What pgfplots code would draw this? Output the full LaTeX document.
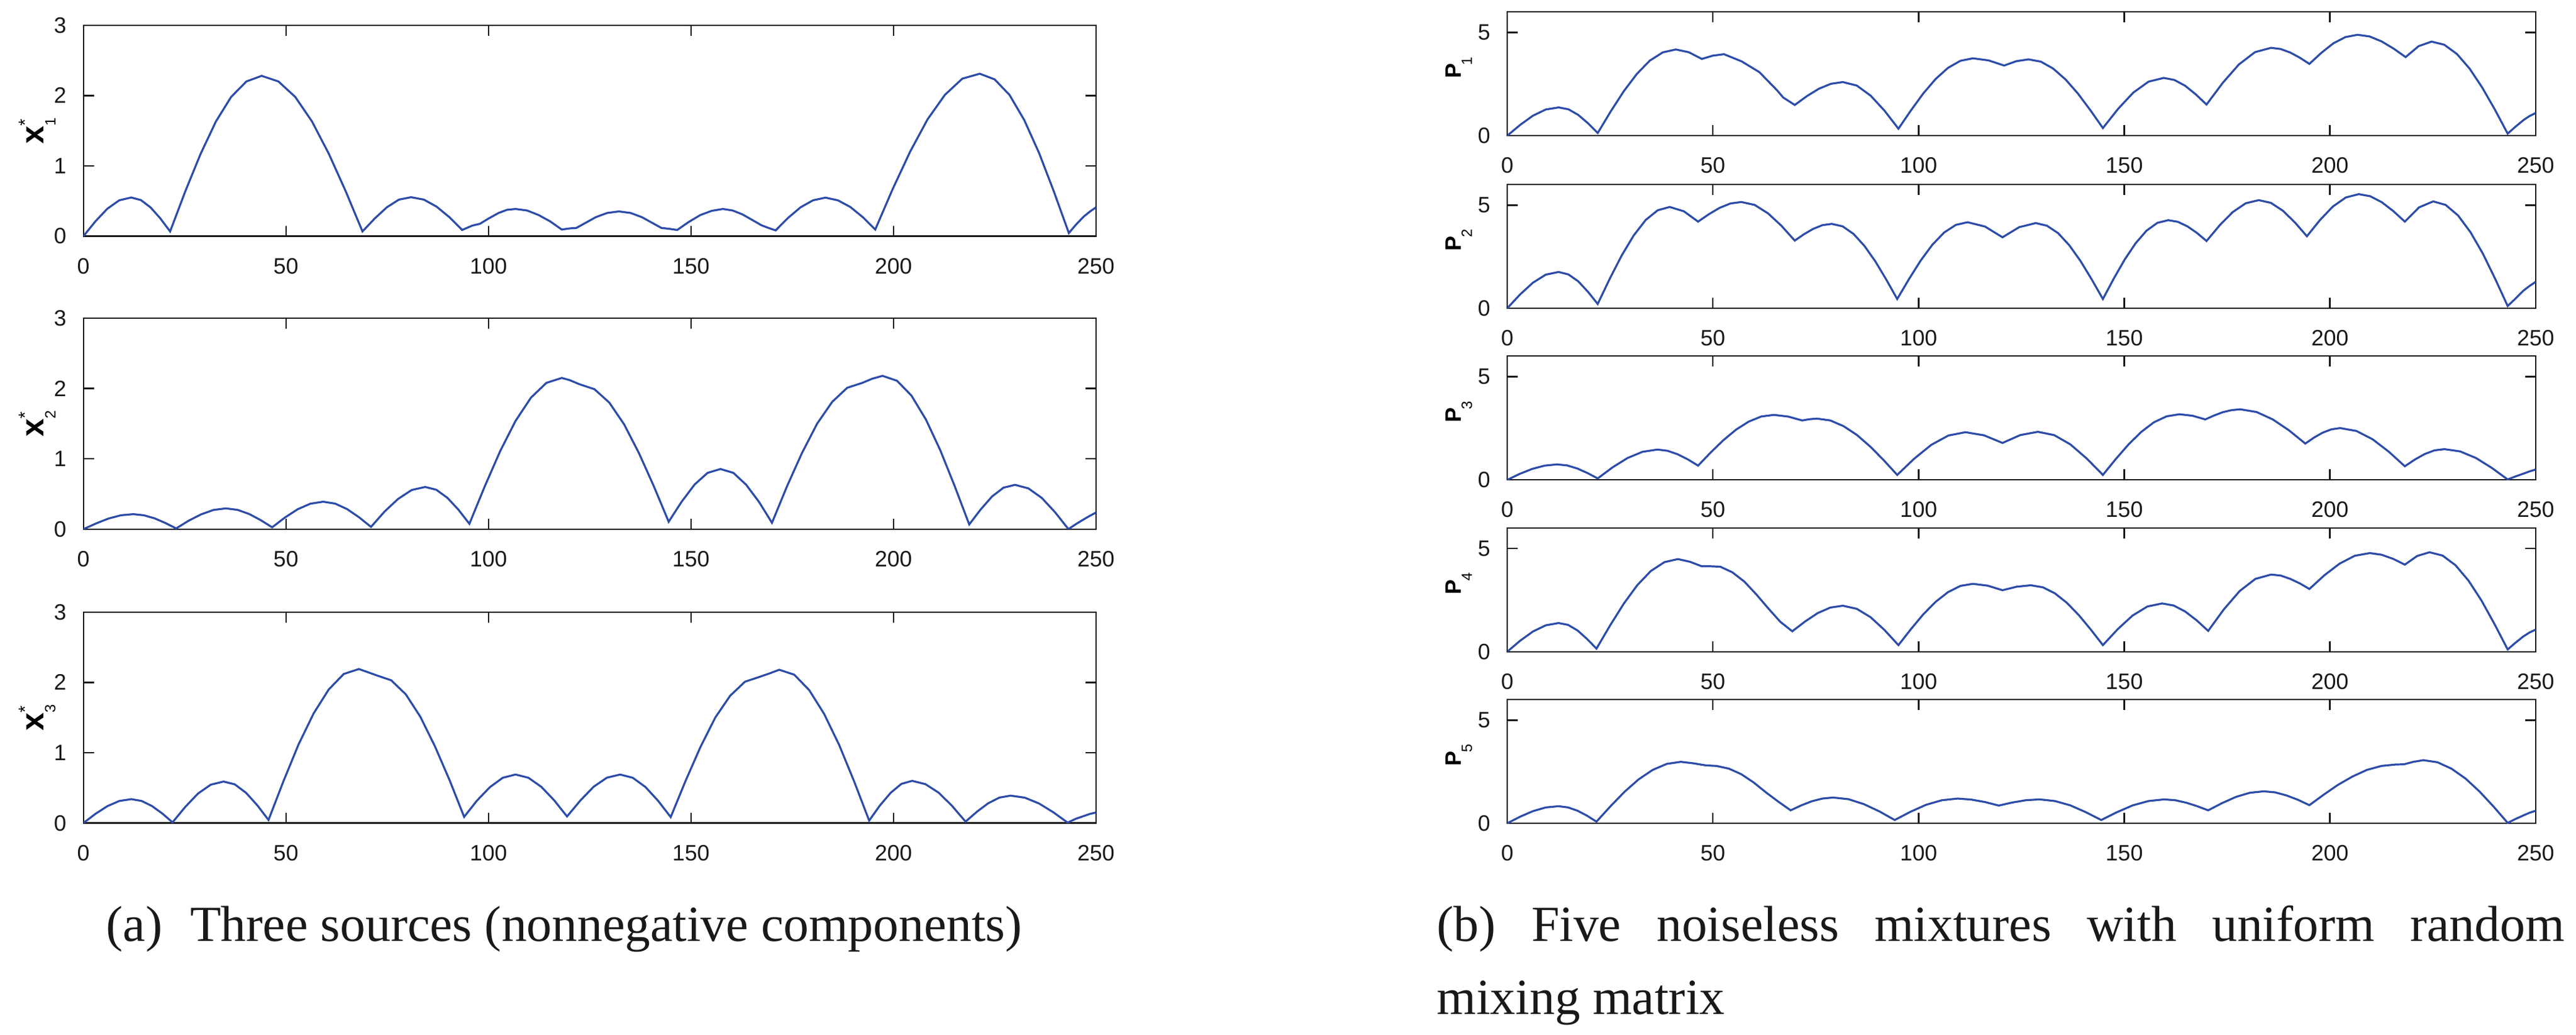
\documentclass[border=0pt]{standalone}
\usepackage{fontspec}
\setmainfont{Liberation Serif}
\setsansfont{Liberation Sans}
\usepackage{pgfplots}
\pgfplotsset{compat=1.18}
\definecolor{linecol}{RGB}{44,76,168}
\definecolor{axcol}{RGB}{25,25,25}
\pgfplotsset{
  base/.style={scale only axis, anchor=north west, xmin=0, xmax=250,
    xtick={0,50,100,150,200,250}, tick align=inside, tick pos=both,
    major tick length=2.1pt,
    axis line style={line width=0.3pt, axcol},
    every tick/.style={axcol, line width=0.3pt},
    ticklabel style={font=\fontsize{4.5}{5}\selectfont\sffamily, text=axcol},
    /pgf/number format/assume math mode=true,
    xticklabel style={yshift=-0.9pt},
    yticklabel style={xshift=0.1pt},
    cycle list={{linecol, line width=0.35pt, mark=none, line join=round, smooth, tension=0.35}},
  },
  srcax/.style={base, width=204.4pt, height=42.6pt, ymin=0, ymax=3, ytick={0,1,2,3},
    ylabel style={at={(axis description cs:-0.0457,0.5)}, anchor=center}},
  mixax/.style={base, width=207.6pt, height=25pt, ymin=0, ymax=6, ytick={0,5},
    ylabel style={at={(axis description cs:-0.047,0.55)}, anchor=center}},
}
\newcommand{\xlab}[1]{{\fontsize{6.5}{7}\selectfont\sffamily\bfseries x}\rlap{\raisebox{2.5pt}{\fontsize{3.6}{4}\selectfont\sffamily *}}\raisebox{-2.4pt}{\fontsize{3}{3}\selectfont\sffamily #1}}
\newcommand{\plab}[1]{{\fontsize{4.5}{5}\selectfont\sffamily\bfseries P}\kern-0.3pt\raisebox{-2.2pt}{\fontsize{3}{3}\selectfont\sffamily #1}}
\begin{document}
\begin{tikzpicture}
\useasboundingbox (0,0) rectangle (520pt,-209pt);
% ---------------- sources ----------------
\begin{axis}[srcax, at={(16.84pt,-5.09pt)}, ylabel={\xlab{1}}]
\addplot coordinates {(0,0) (2.95,0.21) (5.9,0.39) (8.85,0.51) (11.8,0.55) (14.2,0.513) (16.6,0.408) (19,0.252) (21.4,0.067)
(25.17,0.64) (28.93,1.17) (32.7,1.63) (36.47,1.98) (40.23,2.2) (44,2.28)
(48.15,2.2) (52.3,1.98) (56.45,1.63) (60.6,1.17) (64.75,0.64) (68.9,0.067)
(71.9,0.25) (74.9,0.41) (77.9,0.52) (80.9,0.554) (84.05,0.52) (87.2,0.42) (90.35,0.27) (93.5,0.088)
(96,0.15) (97.9,0.176) (100,0.25) (102.5,0.33) (104.6,0.375) (106.7,0.387) (109.55,0.365) (112.4,0.3) (115.25,0.21) (118.1,0.094)
(120,0.11) (121.7,0.117) (124,0.19) (126.5,0.27) (129.3,0.33) (132.2,0.352) (135.1,0.33) (137.9,0.27) (140.4,0.19) (142.7,0.117) (144.6,0.105) (146.6,0.088)
(149.4,0.2) (152.3,0.3) (155.1,0.36) (157.9,0.387) (160.3,0.365) (162.7,0.31) (165,0.235) (167.4,0.155) (169,0.12) (170.9,0.082)
(173.98,0.26) (177.05,0.41) (180.13,0.51) (183.2,0.548) (186.28,0.51) (189.35,0.415) (192.43,0.27) (195.5,0.094)
(199.8,0.67) (204.1,1.2) (208.4,1.66) (212.7,2.01) (217,2.24) (221.3,2.31) (224.97,2.23) (228.63,2.01) (232.3,1.65) (235.97,1.18) (239.63,0.63) (243.3,0.044)
(245,0.16) (247,0.28) (248.5,0.35) (250,0.41)};
\end{axis}
\begin{axis}[srcax, at={(16.84pt,-64.25pt)}, ylabel={\xlab{2}}]
\addplot coordinates {(0,0) (3.08,0.08) (6.15,0.15) (9.23,0.197) (12.3,0.213) (14.95,0.197) (17.6,0.153) (20.25,0.087) (22.9,0.01)
(25.98,0.12) (29.05,0.21) (32.13,0.273) (35.2,0.295) (38.05,0.274) (40.9,0.216) (43.75,0.129) (46.6,0.026)
(49.75,0.165) (52.9,0.283) (56.05,0.362) (59.2,0.39) (62.15,0.363) (65.1,0.285) (68.05,0.169) (71,0.032)
(74.35,0.25) (77.7,0.43) (81.05,0.557) (84.4,0.6) (87.13,0.56) (89.85,0.446) (92.58,0.277) (95.3,0.076)
(99.1,0.61) (102.9,1.11) (106.7,1.54) (110.5,1.87) (114.3,2.08) (118.1,2.15) (120,2.12) (122.5,2.06)
(126.17,1.99) (129.83,1.8) (133.5,1.49) (137.17,1.08) (140.83,0.61) (144.5,0.105)
(147.7,0.39) (150.9,0.635) (154.1,0.8) (157.3,0.855) (160.48,0.8) (163.65,0.63) (166.83,0.385) (170,0.09)
(173.72,0.61) (177.43,1.085) (181.15,1.5) (184.87,1.81) (188.58,2.01) (192.3,2.08) (194.8,2.14) (197.3,2.18)
(200.87,2.11) (204.43,1.9) (208,1.56) (211.57,1.12) (215.13,0.61) (218.7,0.067)
(221.53,0.28) (224.35,0.465) (227.18,0.59) (230,0.63) (233.3,0.58) (236.6,0.445) (239.9,0.24) (243.2,0)
(245,0.07) (247,0.14) (248.5,0.19) (250,0.236)};
\end{axis}
\begin{axis}[srcax, at={(16.84pt,-123.6pt)}, ylabel={\xlab{3}}]
\addplot coordinates {(0,0) (2.95,0.13) (5.9,0.24) (8.85,0.314) (11.8,0.34) (14.35,0.315) (16.9,0.243) (19.45,0.137) (22,0.01)
(25.15,0.23) (28.3,0.42) (31.45,0.546) (34.6,0.59) (37.38,0.55) (40.15,0.43) (42.93,0.253) (45.7,0.044)
(49.42,0.6) (53.13,1.12) (56.85,1.56) (60.57,1.9) (64.28,2.12) (68,2.19) (70,2.15) (72.4,2.1)
(76,2.03) (79.6,1.83) (83.2,1.51) (86.8,1.09) (90.4,0.61) (94,0.088)
(97.18,0.32) (100.35,0.51) (103.53,0.644) (106.7,0.69) (109.88,0.644) (113.05,0.515) (116.23,0.324) (119.4,0.094)
(122.68,0.32) (125.95,0.515) (129.23,0.645) (132.5,0.69) (135.63,0.644) (138.75,0.513) (141.88,0.317) (145,0.085)
(148.67,0.6) (152.33,1.08) (156,1.5) (159.67,1.81) (163.33,2.01) (167,2.08) (169.5,2.13) (171.8,2.18)
(175.5,2.11) (179.2,1.89) (182.9,1.55) (186.6,1.11) (190.3,0.59) (194,0.035)
(196.65,0.25) (199.3,0.43) (201.95,0.557) (204.6,0.6) (207.9,0.553) (211.2,0.43) (214.5,0.242) (217.8,0.02)
(220.58,0.16) (223.35,0.28) (226.13,0.362) (228.9,0.39) (232.43,0.361) (235.95,0.278) (239.48,0.153) (243,0.006)
(245,0.06) (247,0.1) (248.5,0.13) (250,0.15)};
\end{axis}
% ---------------- mixtures ----------------
\begin{axis}[mixax, at={(304.25pt,-2.4pt)}, ylabel={\plab{1}}]
\addplot coordinates {(0,0) (3.125,0.52) (6.25,0.97) (9.375,1.27) (12.5,1.37) (14.875,1.28) (17.25,1.01) (19.625,0.605) (22,0.13)
(25.17,1.18) (28.33,2.155) (31.5,2.99) (34.67,3.64) (37.83,4.04) (41,4.18) (44.15,4.045) (47.3,3.72) (50,3.88) (52.7,3.95)
(57,3.6) (61.3,3.08) (65.6,2.2) (67.1,1.85) (69.9,1.49)
(72.83,1.915) (75.75,2.275) (78.68,2.515) (81.6,2.6) (84.98,2.43) (88.35,1.94) (91.73,1.21) (95.1,0.34)
(98.12,1.22) (101.13,2.045) (104.15,2.75) (107.17,3.29) (110.18,3.63) (113.2,3.75) (117,3.65) (120.8,3.4) (123.75,3.61) (126.7,3.7)
(129.72,3.59) (132.73,3.25) (135.75,2.72) (138.77,2.035) (141.78,1.23) (144.8,0.37)
(148.5,1.3) (152.2,2.09) (155.9,2.62) (159.6,2.8) (162.2,2.7) (164.8,2.42) (167.4,2) (170,1.51)
(173.93,2.56) (177.85,3.45) (181.78,4.05) (185.7,4.26) (188.03,4.2) (190.35,4.03) (192.68,3.78) (195,3.48)
(197.93,4.02) (200.85,4.48) (203.78,4.78) (206.7,4.89) (209.63,4.81) (212.55,4.57) (215.48,4.22) (218.4,3.81)
(221.55,4.34) (224.7,4.56) (227.78,4.41) (230.87,3.96) (233.95,3.25) (237.03,2.33) (240.12,1.255) (243.2,0.1)
(245,0.42) (247,0.75) (248.5,0.95) (250,1.1)};
\end{axis}
\begin{axis}[mixax, at={(304.25pt,-37.25pt)}, ylabel={\plab{2}}]
\addplot coordinates {(0,0) (3.125,0.67) (6.25,1.24) (9.375,1.63) (12.5,1.76) (14.875,1.64) (17.25,1.31) (19.625,0.8) (22,0.21)
(24.92,1.43) (27.83,2.56) (30.75,3.53) (33.67,4.28) (36.58,4.75) (39.5,4.91) (42.95,4.7) (46.4,4.2)
(49.03,4.56) (51.65,4.87) (54.28,5.08) (56.9,5.15) (60.15,5.01) (63.4,4.6) (66.65,4) (69.9,3.28)
(72.15,3.59) (74.4,3.85) (76.65,4.03) (78.9,4.09)
(81.55,3.97) (84.2,3.6) (86.85,3.02) (89.5,2.27) (92.15,1.39) (94.8,0.45)
(97.65,1.41) (100.5,2.31) (103.35,3.08) (106.2,3.67) (109.05,4.04) (111.9,4.17) (116.15,3.96) (120.4,3.44) (124.45,3.93) (128.5,4.13)
(131.22,4) (133.93,3.64) (136.65,3.05) (139.37,2.29) (142.08,1.4) (144.8,0.45)
(147.45,1.44) (150.1,2.36) (152.75,3.15) (155.4,3.76) (158.05,4.14) (160.7,4.27) (163.03,4.19) (165.35,3.97) (167.68,3.65) (170,3.26)
(173.18,4.02) (176.35,4.66) (179.53,5.09) (182.7,5.24) (185.63,5.11) (188.55,4.73) (191.48,4.16) (194.4,3.49)
(197.55,4.27) (200.7,4.93) (203.85,5.37) (207,5.53) (209.8,5.43) (212.6,5.14) (215.4,4.71) (218.2,4.2)
(221.65,4.89) (225.1,5.18) (228.12,5.01) (231.13,4.5) (234.15,3.69) (237.17,2.65) (240.18,1.42) (243.2,0.11)
(245,0.45) (247,0.85) (248.5,1.08) (250,1.28)};
\end{axis}
\begin{axis}[mixax, at={(304.25pt,-71.9pt)}, ylabel={\plab{3}}]
\addplot coordinates {(0,0) (3.025,0.29) (6.05,0.53) (9.075,0.69) (12.1,0.75) (14.58,0.7) (17.05,0.55) (19.53,0.33) (22,0.07)
(25.63,0.61) (29.25,1.06) (32.88,1.36) (36.5,1.47) (38.98,1.41) (41.45,1.24) (43.93,0.99) (46.4,0.69)
(49.47,1.33) (52.53,1.92) (55.6,2.43) (58.67,2.82) (61.73,3.07) (64.8,3.15) (68.25,3.07) (71.7,2.88) (73.5,2.94) (75.3,2.97)
(78.55,2.88) (81.8,2.6) (85.05,2.17) (88.3,1.605) (91.55,0.95) (94.8,0.24)
(98.95,1.03) (103.1,1.7) (107.25,2.15) (111.4,2.31) (115.9,2.16) (120.4,1.79) (124.7,2.17) (129,2.33)
(132.95,2.17) (136.9,1.72) (140.85,1.04) (144.8,0.24)
(147.9,1) (151,1.71) (154.1,2.32) (157.2,2.79) (160.3,3.08) (163.4,3.18) (166.55,3.11) (169.7,2.93)
(171.83,3.12) (173.95,3.28) (176.08,3.38) (178.2,3.42) (182.15,3.29) (186.1,2.93) (190.05,2.4) (194,1.76)
(196.13,2.05) (198.25,2.29) (200.38,2.45) (202.5,2.51) (206.43,2.37) (210.35,1.97) (214.28,1.37) (218.2,0.66)
(220.6,0.98) (223,1.25) (225.4,1.43) (227.8,1.49) (231.65,1.38) (235.5,1.06) (239.35,0.58) (243.2,0.02)
(245,0.16) (247,0.3) (248.5,0.41) (250,0.5)};
\end{axis}
\begin{axis}[mixax, at={(304.25pt,-106.6pt)}, ylabel={\plab{4}}]
\addplot coordinates {(0,0) (3.125,0.53) (6.25,0.98) (9.375,1.28) (12.5,1.39) (14.8,1.3) (17.1,1.03) (19.4,0.62) (21.7,0.15)
(25,1.27) (28.3,2.32) (31.6,3.22) (34.9,3.91) (38.2,4.34) (41.5,4.49) (44.4,4.36) (47.3,4.14) (49.5,4.14) (51.8,4.12)
(54.72,3.85) (57.63,3.4) (60.55,2.78) (63.47,2.1) (66.38,1.45) (69.3,0.99)
(72.38,1.46) (75.45,1.87) (78.53,2.14) (81.6,2.23) (84.98,2.08) (88.35,1.67) (91.73,1.05) (95.1,0.32)
(98.12,1.09) (101.13,1.81) (104.15,2.42) (107.17,2.89) (110.18,3.19) (113.2,3.29) (116.8,3.2) (120.4,2.98) (123.85,3.15) (127.3,3.22)
(130.22,3.12) (133.13,2.83) (136.05,2.37) (138.97,1.77) (141.88,1.07) (144.8,0.32)
(148.4,1.09) (152,1.75) (155.6,2.19) (159.2,2.34) (162,2.24) (164.8,1.95) (167.6,1.52) (170.4,1.01)
(174.23,2.06) (178.05,2.94) (181.88,3.53) (185.7,3.74) (188.03,3.69) (190.35,3.53) (192.68,3.31) (195,3.04)
(198.68,3.71) (202.35,4.27) (206.03,4.65) (209.7,4.78) (212.53,4.7) (215.37,4.5) (218.2,4.22) (221.2,4.64) (224.2,4.82)
(227.37,4.66) (230.53,4.19) (233.7,3.44) (236.87,2.47) (240.03,1.33) (243.2,0.11)
(245,0.42) (247,0.74) (248.5,0.93) (250,1.07)};
\end{axis}
\begin{axis}[mixax, at={(304.25pt,-141.25pt)}, ylabel={\plab{5}}]
\addplot coordinates {(0,0) (3.125,0.32) (6.25,0.59) (9.375,0.77) (12.5,0.83) (14.8,0.77) (17.1,0.61) (19.4,0.37) (21.7,0.08)
(25.12,0.83) (28.53,1.53) (31.95,2.13) (35.37,2.59) (38.78,2.88) (42.2,2.98) (45.2,2.91) (48.2,2.81) (50.9,2.78)
(53.9,2.65) (56.9,2.38) (59.9,1.98) (62.9,1.5) (65.9,1.05) (68.9,0.63)
(71.48,0.87) (74.05,1.07) (76.63,1.2) (79.2,1.25) (82.95,1.17) (86.7,0.93) (90.45,0.58) (94.2,0.16)
(98.03,0.56) (101.85,0.9) (105.68,1.12) (109.5,1.2) (112.83,1.15) (116.17,1.03) (119.5,0.86) (122.8,1.01) (126.1,1.12) (129.4,1.16)
(133.15,1.08) (136.9,0.87) (140.65,0.54) (144.4,0.16)
(148.23,0.54) (152.05,0.87) (155.88,1.08) (159.7,1.16) (162.38,1.12) (165.05,1) (167.73,0.83) (170.4,0.63)
(173.78,0.98) (177.15,1.28) (180.53,1.48) (183.9,1.55) (186.68,1.5) (189.45,1.35) (192.23,1.14) (195,0.88)
(198.5,1.39) (202,1.87) (205.5,2.27) (209,2.59) (212.5,2.78) (216,2.85) (218,2.86) (220.3,2.98) (222.7,3.06)
(226.12,2.96) (229.53,2.65) (232.95,2.17) (236.37,1.54) (239.78,0.81) (243.2,0.02)
(245,0.2) (247,0.38) (248.5,0.51) (250,0.61)};
\end{axis}
% ---------------- captions ----------------
\node[anchor=base west, inner sep=0pt, font=\fontsize{10.2}{12}\selectfont, text=axcol] at (21.25pt,-190pt) {(a)\hspace{0.55em}Three sources (nonnegative components)};
\node[anchor=base west, inner sep=0pt, font=\fontsize{10.2}{12}\selectfont, text=axcol] at (289.9pt,-190pt) {\makebox[227.6pt][s]{(b) Five noiseless mixtures with uniform random}};
\node[anchor=base west, inner sep=0pt, font=\fontsize{10.2}{12}\selectfont, text=axcol] at (289.9pt,-204.75pt) {mixing matrix};
\end{tikzpicture}
\end{document}
